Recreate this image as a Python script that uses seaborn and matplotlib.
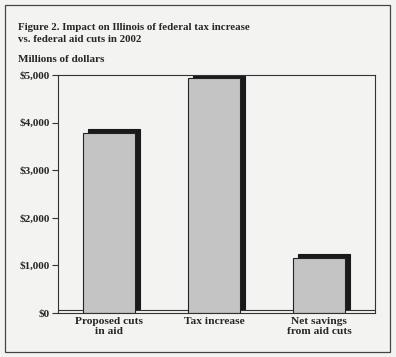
import matplotlib
matplotlib.use("Agg")
import matplotlib.pyplot as plt
import matplotlib.transforms as mtransforms
from matplotlib.patches import Rectangle
import seaborn as sns
import pandas as pd

categories = ["Proposed cuts\nin aid", "Tax increase", "Net savings\nfrom aid cuts"]
values = [3780, 4940, 1160]
yticks = [0, 1000, 2000, 3000, 4000, 5000]
ytick_labels = ["$0", "$1,000", "$2,000", "$3,000", "$4,000", "$5,000"]
title_lines = "Figure 2. Impact on Illinois of federal tax increase\nvs. federal aid cuts in 2002"
ylabel = "Millions of dollars"

sns.set_theme(style="white")
plt.rcParams["font.family"] = ["Liberation Serif", "DejaVu Serif"]
plt.rcParams["font.weight"] = "bold"

bg = "#f3f3f1"
fig = plt.figure(figsize=(3.96, 3.57), dpi=100, facecolor=bg)
ax = fig.add_axes([0.146, 0.123, 0.80, 0.667])
ax.set_facecolor(bg)

df = pd.DataFrame({"cat": categories, "val": values})

# 3D-like dark shadow (offset right/up)
shadow_tr = mtransforms.offset_copy(ax.transData, fig=fig, x=5, y=4, units="dots")
sns.barplot(data=df, x="cat", y="val", color="#1a1a1a", width=0.5,
            edgecolor="#1a1a1a", linewidth=0.8, ax=ax, saturation=1)
for p in ax.patches:
    p.set_transform(shadow_tr)
sns.barplot(data=df, x="cat", y="val", color="#c4c4c4", width=0.5,
            edgecolor="#222222", linewidth=0.8, ax=ax, saturation=1)

ax.set_ylim(0, 5000)
ax.set_xlim(-0.49, 2.53)
ax.set_yticks(yticks)
ax.set_yticklabels(ytick_labels, fontsize=8, fontweight="bold")
ax.tick_params(axis="y", length=4, width=0.8, color="#333333", pad=2, left=True)
ax.tick_params(axis="x", length=0, pad=3)
for lbl in ax.get_xticklabels():
    lbl.set_fontsize(8.2)
    lbl.set_fontweight("bold")
    lbl.set_linespacing(1.05)
ax.set_xlabel("")
ax.set_ylabel("")
for s in ax.spines.values():
    s.set_visible(True)
    s.set_color("#333333")
    s.set_linewidth(0.8)

# floor line for 3D look
ax.axhline(60, color="#333333", lw=0.8, zorder=0.5)

fig.text(0.045, 0.878, title_lines, fontsize=7.8, fontweight="bold",
         ha="left", va="bottom", linespacing=1.3)
fig.text(0.045, 0.822, ylabel, fontsize=8, fontweight="bold",
         ha="left", va="bottom")

fig.patches.append(Rectangle((0.012, 0.014), 0.972, 0.972, transform=fig.transFigure,
                             fill=False, edgecolor="#444444", linewidth=0.9))

fig.savefig("out.png", dpi=100, facecolor=bg)
